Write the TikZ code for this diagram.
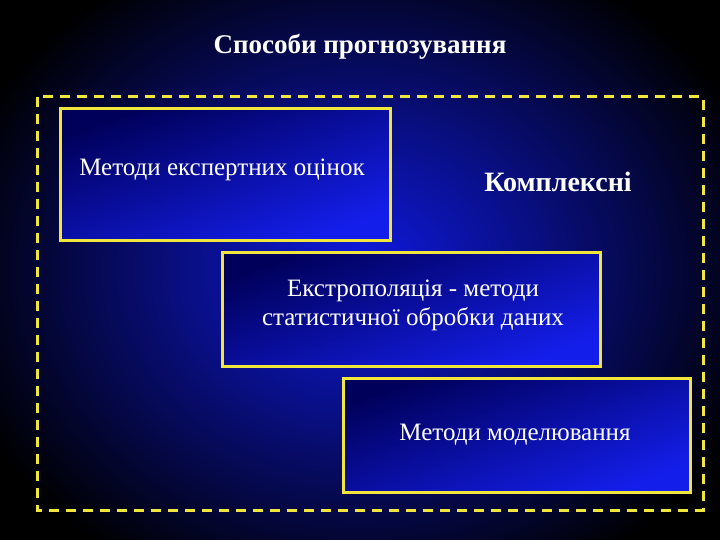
\documentclass[tikz,border=0pt]{standalone}
\usepackage{fontspec}
\setmainfont{Liberation Serif}
\begin{document}
\begin{tikzpicture}[x=1pt,y=-1pt,
  bx/.style={draw={rgb,255:red,240;green,230;blue,60},line width=3pt,top color={rgb,255:red,0;green,0;blue,90},bottom color={rgb,255:red,20;green,30;blue,235},shading angle=20},
  tx/.style={text=white,font=\fontsize{25}{29}\selectfont,align=center}]
\useasboundingbox (0,0) rectangle (720,540);
\begin{scope}
\clip (0,0) rectangle (720,540);
\shade[inner color={rgb,255:red,15;green,25;blue,225},outer color=black] (-60,-80) rectangle (780,620);
\end{scope}
\node[tx,font=\bfseries\fontsize{27}{31}\selectfont] (title) at (360,47) {Способи прогнозування};
\draw[draw={rgb,255:red,240;green,230;blue,60},line width=3pt,dash pattern=on 10pt off 7pt] (37,97) rectangle (703,510);
\path[bx] (60,109) rectangle (390,240);
\node[tx] (a) at (222,170) {Методи експертних оцінок};
\node[tx,font=\bfseries\fontsize{28}{32}\selectfont] (k) at (558,182) {Комплексні};
\path[bx] (222,252) rectangle (600,366);
\node[tx] (b) at (413,305) {Екстрополяція - методи\\статистичної обробки даних};
\path[bx] (343,378) rectangle (690,492);
\node[tx] (c) at (515,435) {Методи моделювання};
\end{tikzpicture}
\end{document}
